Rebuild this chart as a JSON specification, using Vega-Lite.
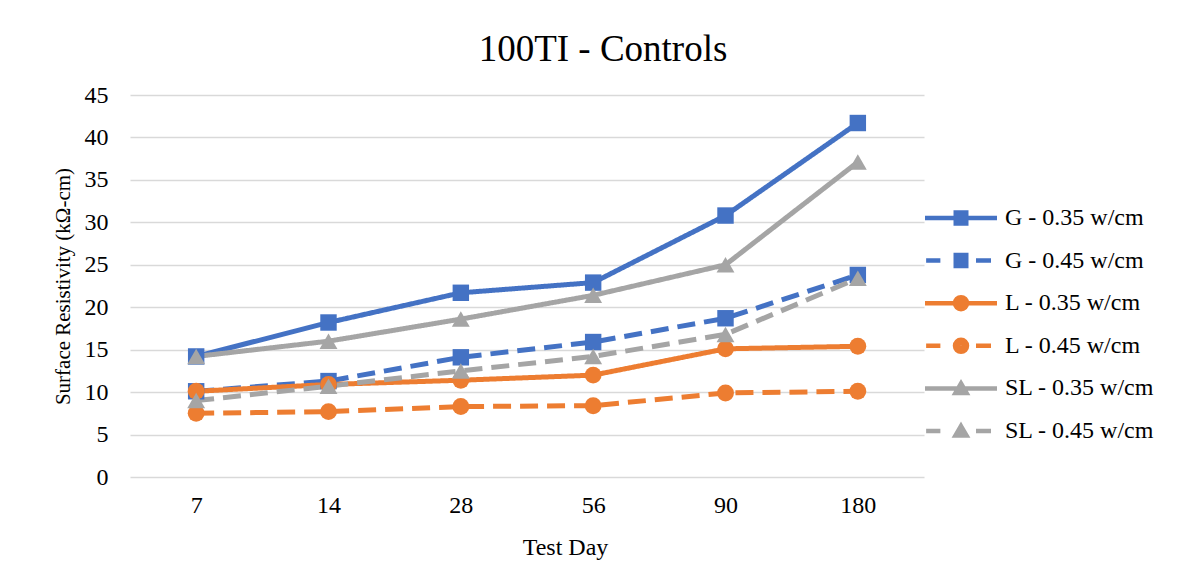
{
  "$schema": "https://vega.github.io/schema/vega-lite/v6.json",
  "autosize": "none",
  "width": 794,
  "height": 382,
  "padding": {"left": 130, "top": 95, "right": 275, "bottom": 105},
  "background": "white",
  "title": {
    "text": "100TI - Controls",
    "font": "Liberation Serif",
    "fontSize": 37,
    "fontWeight": "normal",
    "color": "#000000",
    "baseline": "alphabetic",
    "offset": 33,
    "dy": 48,
    "dx": 76
  },
  "config": {
    "view": {"stroke": null},
    "font": "Liberation Serif"
  },
  "resolve": {"legend": {"color": "independent", "shape": "independent"}},
  "data": {
    "values": [
      {"day": 7, "series": "G - 0.35 w/cm", "value": 14.2},
      {"day": 14, "series": "G - 0.35 w/cm", "value": 18.2},
      {"day": 28, "series": "G - 0.35 w/cm", "value": 21.7},
      {"day": 56, "series": "G - 0.35 w/cm", "value": 22.9},
      {"day": 90, "series": "G - 0.35 w/cm", "value": 30.8},
      {"day": 180, "series": "G - 0.35 w/cm", "value": 41.7},
      {"day": 7, "series": "G - 0.45 w/cm", "value": 10.1},
      {"day": 14, "series": "G - 0.45 w/cm", "value": 11.3},
      {"day": 28, "series": "G - 0.45 w/cm", "value": 14.1},
      {"day": 56, "series": "G - 0.45 w/cm", "value": 15.9},
      {"day": 90, "series": "G - 0.45 w/cm", "value": 18.7},
      {"day": 180, "series": "G - 0.45 w/cm", "value": 23.8},
      {"day": 7, "series": "L - 0.35 w/cm", "value": 10.1},
      {"day": 14, "series": "L - 0.35 w/cm", "value": 10.9},
      {"day": 28, "series": "L - 0.35 w/cm", "value": 11.4},
      {"day": 56, "series": "L - 0.35 w/cm", "value": 12.0},
      {"day": 90, "series": "L - 0.35 w/cm", "value": 15.1},
      {"day": 180, "series": "L - 0.35 w/cm", "value": 15.4},
      {"day": 7, "series": "L - 0.45 w/cm", "value": 7.5},
      {"day": 14, "series": "L - 0.45 w/cm", "value": 7.7},
      {"day": 28, "series": "L - 0.45 w/cm", "value": 8.3},
      {"day": 56, "series": "L - 0.45 w/cm", "value": 8.4},
      {"day": 90, "series": "L - 0.45 w/cm", "value": 9.9},
      {"day": 180, "series": "L - 0.45 w/cm", "value": 10.1},
      {"day": 7, "series": "SL - 0.35 w/cm", "value": 14.2},
      {"day": 14, "series": "SL - 0.35 w/cm", "value": 16.0},
      {"day": 28, "series": "SL - 0.35 w/cm", "value": 18.6},
      {"day": 56, "series": "SL - 0.35 w/cm", "value": 21.4},
      {"day": 90, "series": "SL - 0.35 w/cm", "value": 25.0},
      {"day": 180, "series": "SL - 0.35 w/cm", "value": 37.1},
      {"day": 7, "series": "SL - 0.45 w/cm", "value": 9.0},
      {"day": 14, "series": "SL - 0.45 w/cm", "value": 10.7},
      {"day": 28, "series": "SL - 0.45 w/cm", "value": 12.5},
      {"day": 56, "series": "SL - 0.45 w/cm", "value": 14.2},
      {"day": 90, "series": "SL - 0.45 w/cm", "value": 16.8},
      {"day": 180, "series": "SL - 0.45 w/cm", "value": 23.4}
    ]
  },
  "encoding": {
    "x": {
      "field": "day",
      "type": "ordinal",
      "scale": {"type": "point", "padding": 0.5},
      "axis": {
        "title": "Test Day",
        "labelAngle": 0,
        "labelFont": "Liberation Serif",
        "labelFontSize": 24,
        "labelColor": "#000000",
        "labelPadding": 16,
        "ticks": false,
        "domain": false,
        "grid": false,
        "titleFont": "Liberation Serif",
        "titleFontSize": 24,
        "titleFontWeight": "normal",
        "titleColor": "#000000",
        "titlePadding": 18,
        "titleX": 435
      }
    },
    "y": {
      "field": "value",
      "type": "quantitative",
      "scale": {"domain": [0, 45], "nice": false},
      "axis": {
        "title": "Surface Resistivity (kΩ-cm)",
        "values": [0, 5, 10, 15, 20, 25, 30, 35, 40, 45],
        "labelFont": "Liberation Serif",
        "labelFontSize": 24,
        "labelColor": "#000000",
        "labelPadding": 22,
        "ticks": false,
        "domain": false,
        "grid": true,
        "gridColor": "#d9d9d9",
        "gridWidth": 1.6,
        "titleFont": "Liberation Serif",
        "titleFontSize": 21,
        "titleFontWeight": "normal",
        "titleColor": "#000000",
        "titlePadding": 11
      }
    },
    "color": {
      "field": "series",
      "type": "nominal",
      "scale": {
        "domain": ["G - 0.35 w/cm", "G - 0.45 w/cm", "L - 0.35 w/cm", "L - 0.45 w/cm", "SL - 0.35 w/cm", "SL - 0.45 w/cm"],
        "range": ["#4472C4", "#4472C4", "#ED7D31", "#ED7D31", "#A5A5A5", "#A5A5A5"]
      },
      "legend": null
    }
  },
  "layer": [
    {
      "mark": {"type": "line", "strokeWidth": 5},
      "encoding": {
        "strokeDash": {
          "field": "series",
          "type": "nominal",
          "scale": {
            "domain": ["G - 0.35 w/cm", "G - 0.45 w/cm", "L - 0.35 w/cm", "L - 0.45 w/cm", "SL - 0.35 w/cm", "SL - 0.45 w/cm"],
            "range": [[1, 0], [18, 9], [1, 0], [18, 9], [1, 0], [18, 9]]
          },
          "legend": null
        }
      }
    },
    {
      "transform": [{"filter": {"field": "series", "oneOf": ["G - 0.35 w/cm", "G - 0.45 w/cm"]}}],
      "mark": {"type": "point", "shape": "square", "filled": true, "opacity": 1, "size": 270}
    },
    {
      "transform": [{"filter": {"field": "series", "oneOf": ["L - 0.35 w/cm", "L - 0.45 w/cm"]}}],
      "mark": {"type": "point", "shape": "circle", "filled": true, "opacity": 1, "size": 285}
    },
    {
      "transform": [{"filter": {"field": "series", "oneOf": ["SL - 0.35 w/cm", "SL - 0.45 w/cm"]}}],
      "mark": {"type": "point", "shape": "triangle-up", "filled": true, "opacity": 1, "size": 320}
    },
    {
      "transform": [{"filter": "false"}],
      "mark": {"type": "point", "filled": false, "opacity": 1, "strokeWidth": 4.5},
      "encoding": {
        "color": {
          "field": "series",
          "type": "nominal",
          "scale": {
            "domain": ["G - 0.35 w/cm", "G - 0.45 w/cm", "L - 0.35 w/cm", "L - 0.45 w/cm", "SL - 0.35 w/cm", "SL - 0.45 w/cm"],
            "range": ["#4472C4", "#4472C4", "#ED7D31", "#ED7D31", "#A5A5A5", "#A5A5A5"]
          },
          "legend": {
            "title": null,
            "orient": "none",
            "legendX": 791,
            "legendY": 111,
            "padding": 0,
            "labelFont": "Liberation Serif",
            "labelFontSize": 24,
            "labelColor": "#000000",
            "labelOffset": 4,
            "rowPadding": 18.6,
            "clipHeight": 24,
            "symbolSize": 5625,
            "symbolStrokeWidth": 4.5,
            "symbolOpacity": 1
          }
        },
        "shape": {
          "field": "series",
          "type": "nominal",
          "scale": {
            "domain": ["G - 0.35 w/cm", "G - 0.45 w/cm", "L - 0.35 w/cm", "L - 0.45 w/cm", "SL - 0.35 w/cm", "SL - 0.45 w/cm"],
            "range": [
              "M-0.96,0H0.96M-0.2,-0.147H0.2M-0.2,-0.073H0.2M-0.2,0H0.2M-0.2,0.073H0.2M-0.2,0.147H0.2",
              "M-0.93,0H-0.55M0.4,0H0.8M-0.2,-0.147H0.2M-0.2,-0.073H0.2M-0.2,0H0.2M-0.2,0.073H0.2M-0.2,0.147H0.2",
              "M-0.96,0H0.96M-0.16,0A0.16,0.16 0 1,0 0.16,0A0.16,0.16 0 1,0 -0.16,0M-0.067,0A0.067,0.067 0 1,0 0.067,0A0.067,0.067 0 1,0 -0.067,0",
              "M-0.93,0H-0.55M0.4,0H0.8M-0.16,0A0.16,0.16 0 1,0 0.16,0A0.16,0.16 0 1,0 -0.16,0M-0.067,0A0.067,0.067 0 1,0 0.067,0A0.067,0.067 0 1,0 -0.067,0",
              "M-0.96,0H0.96M0,-0.133L0.147,0.12L-0.147,0.12ZM0,-0.027L0.04,0.053L-0.04,0.053Z",
              "M-0.93,0H-0.55M0.4,0H0.8M0,-0.133L0.147,0.12L-0.147,0.12ZM0,-0.027L0.04,0.053L-0.04,0.053Z"
            ]
          },
          "legend": null
        }
      }
    }
  ]
}
